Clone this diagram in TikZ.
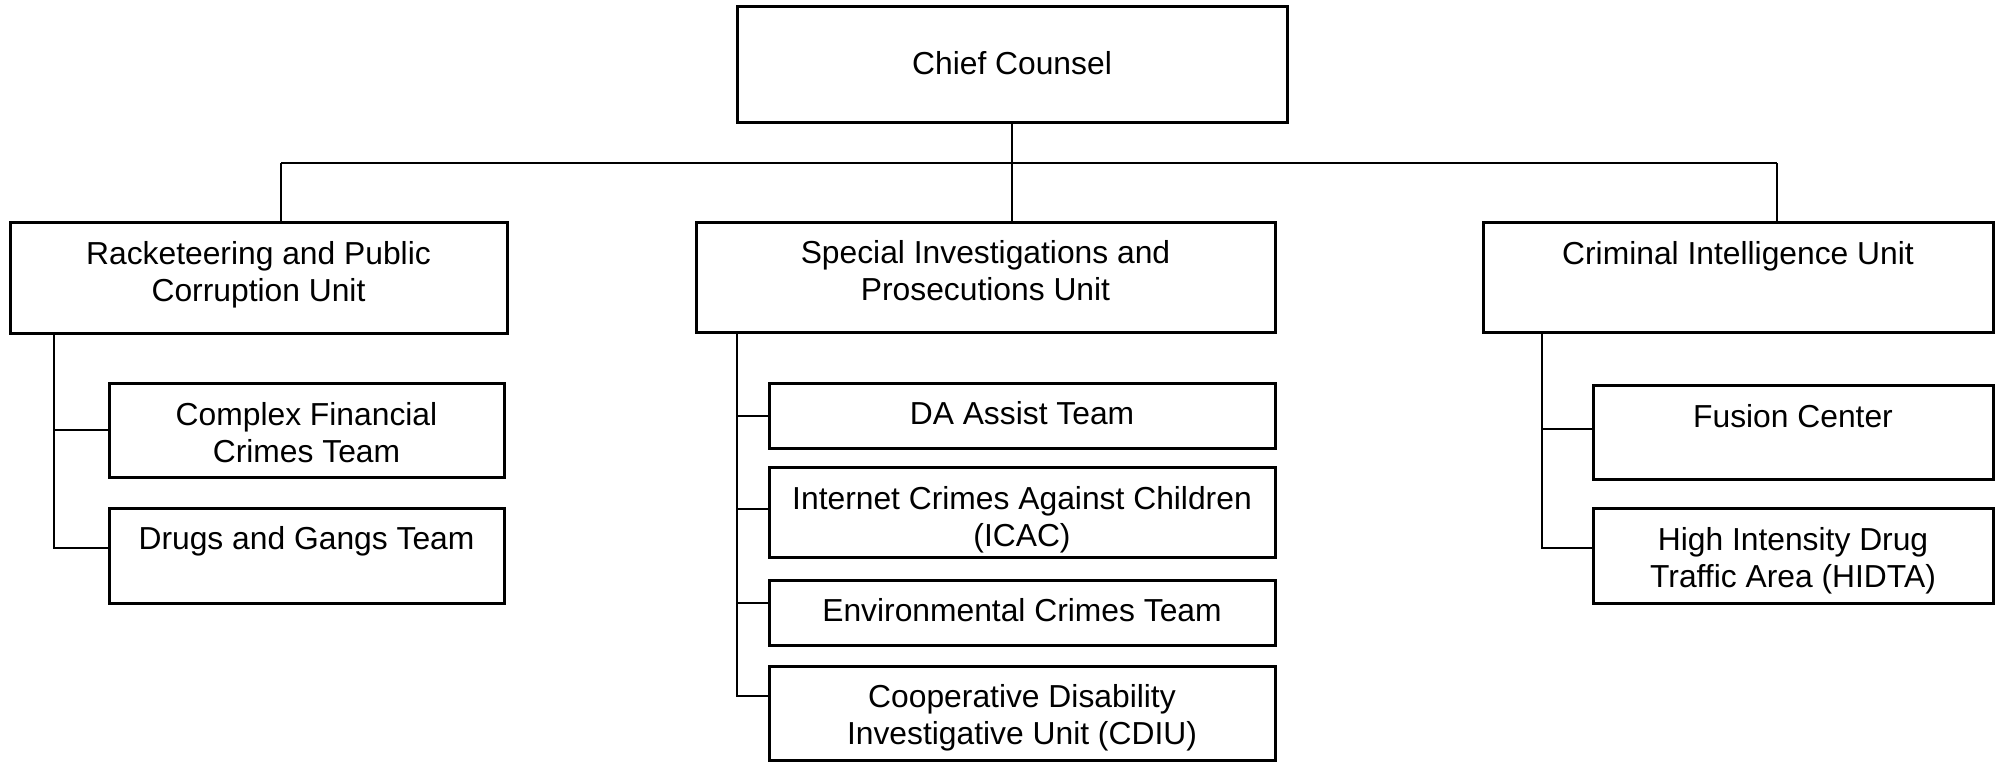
\documentclass[tikz,border=0pt]{standalone}
\usepackage{fontspec}
\setmainfont{Liberation Sans}
\begin{document}
\begin{tikzpicture}[x=1pt,y=-1pt,
  box/.style={draw, line width=3pt, rectangle, inner sep=0pt},
  txt/.style={font=\fontsize{31.8}{36.5}\selectfont, align=center, inner sep=0pt},
  link/.style={line width=2pt},
  busline/.style={line width=2.8pt}]
\useasboundingbox (0,0) rectangle (2007,768);
\fill[white] (0,0) rectangle (2007,768);

% boxes
\node[box, minimum width=550pt, minimum height=115pt] (chief) at (1012,64.5) {};
\node[box, minimum width=497pt, minimum height=111pt] (rpc) at (258.5,277.5) {};
\node[box, minimum width=579pt, minimum height=110pt] (sipu) at (985.5,277) {};
\node[box, minimum width=510pt, minimum height=110pt] (ciu) at (1738,277) {};
\node[box, minimum width=395pt, minimum height=94pt] (cf) at (306.5,430) {};
\node[box, minimum width=395pt, minimum height=95pt] (dg) at (306.5,555.5) {};
\node[box, minimum width=506pt, minimum height=65pt] (da) at (1022,415.5) {};
\node[box, minimum width=506pt, minimum height=90pt] (icac) at (1022,512) {};
\node[box, minimum width=506pt, minimum height=65pt] (env) at (1022,612.5) {};
\node[box, minimum width=506pt, minimum height=94pt] (cdiu) at (1022,713) {};
\node[box, minimum width=400pt, minimum height=94pt] (fus) at (1793,432) {};
\node[box, minimum width=400pt, minimum height=95pt] (hid) at (1793,555.5) {};

% texts
\node[txt] (chief-t) at (1012,67) {\strut Chief Counsel};
\node[txt] (rpc-t) at (258.5,275.5) {\strut Racketeering and Public\\Corruption Unit\strut};
\node[txt] (sipu-t) at (985.5,274.5) {\strut Special Investigations and\\Prosecutions Unit\strut};
\node[txt] (ciu-t) at (1738,257) {\strut Criminal Intelligence Unit};
\node[txt] (cf-t) at (306.5,436.5) {\strut Complex Financial\\Crimes Team\strut};
\node[txt] (dg-t) at (306.5,542) {\strut Drugs and Gangs Team};
\node[txt] (da-t) at (1022,417) {\strut DA Assist Team};
\node[txt] (icac-t) at (1022,520.5) {\strut Internet Crimes Against Children\\(ICAC)\strut};
\node[txt] (env-t) at (1022,614) {\strut Environmental Crimes Team};
\node[txt] (cdiu-t) at (1022,718.5) {\strut Cooperative Disability\\Investigative Unit (CDIU)\strut};
\node[txt] (fus-t) at (1793,420) {\strut Fusion Center};
\node[txt] (hid-t) at (1793,561.5) {\strut High Intensity Drug\\Traffic Area (HIDTA)\strut};

% top-level connectors
\coordinate (busL) at (281,163);
\coordinate (busR) at (1777,163);
\draw[busline] (busL) -- (busR);
\draw[link] (chief.south) -- (chief.south |- sipu.north);
\draw[link] (busL) -- (busL |- rpc.north);
\draw[link] (busR) -- (busR |- ciu.north);

% Racketeering unit
\coordinate (rs) at (54,333);
\draw[link] (rs) |- ([yshift=7.5pt]dg.west);
\draw[link] (rs |- cf.west) -- (cf.west);

% Special investigations unit
\coordinate (ss) at (737,332);
\draw[link] (ss) |- ([yshift=17pt]cdiu.west);
\draw[link] (ss |- da.west) -- (da.west);
\draw[link] ([yshift=3pt]icac.west -| ss) -- ([yshift=3pt]icac.west);
\draw[link] ([yshift=10pt]env.west -| ss) -- ([yshift=10pt]env.west);

% Criminal intelligence unit
\coordinate (cs) at (1542,332);
\draw[link] (cs) |- ([yshift=7.5pt]hid.west);
\draw[link] ([yshift=3pt]fus.west -| cs) -- ([yshift=3pt]fus.west);
\end{tikzpicture}
\end{document}
